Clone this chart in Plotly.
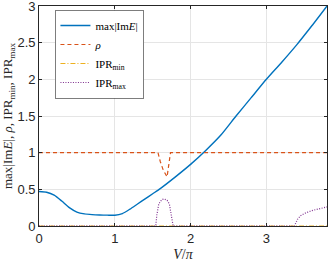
import plotly.graph_objects as go

# max|Im E|
imE_V = [0, 0.1, 0.2, 0.3, 0.4, 0.5, 0.6, 0.7, 0.8, 0.9, 1.0, 1.1, 1.2, 1.3, 1.4, 1.5,
         1.6, 1.8, 2.0, 2.2, 2.4, 2.6, 2.8, 3.0, 3.2, 3.4, 3.6, 3.8]
imE = [0.47, 0.46, 0.42, 0.34, 0.25, 0.19, 0.165, 0.155, 0.15, 0.148, 0.147, 0.17, 0.23,
       0.30, 0.37, 0.44, 0.51, 0.67, 0.84, 1.03, 1.24, 1.50, 1.75, 2.0, 2.23, 2.47, 2.73, 3.0]

# rho
rho_V = [0, 1.57, 1.60, 1.64, 1.69, 1.71, 1.735, 3.8]
rho = [1.0, 1.0, 0.88, 0.76, 0.67, 0.80, 1.0, 1.0]

# IPR_min
iprmin_V = [0, 3.8]
iprmin = [0.0, 0.0]

# IPR_max
iprmax_V = [0, 1.54, 1.555, 1.58, 1.62, 1.65, 1.69, 1.72, 1.75, 1.77,
            3.37, 3.39, 3.41, 3.45, 3.5, 3.6, 3.7, 3.8]
iprmax = [0, 0, 0.15, 0.30, 0.36, 0.37, 0.35, 0.30, 0.12, 0,
          0, 0.05, 0.09, 0.14, 0.17, 0.21, 0.24, 0.26]

x_ticks = [0, 1, 2, 3]
y_ticks = [0, 0.5, 1, 1.5, 2, 2.5, 3]
y_tick_labels = ["0", "0.5", "1", "1.5", "2", "2.5", "3"]

serif = "Liberation Serif"
sans = "Liberation Sans"
axc = "#262626"

fig = go.Figure()
fig.add_trace(go.Scatter(x=imE_V, y=imE, mode="lines", name="max|Im<i>E</i>|",
                         line=dict(color="#0072BD", width=1.4, shape="spline", smoothing=0.6)))
fig.add_trace(go.Scatter(x=rho_V, y=rho, mode="lines", name="<i>ρ</i>",
                         line=dict(color="#D95319", width=1.2, dash="4px,3px")))
fig.add_trace(go.Scatter(x=iprmin_V, y=iprmin, mode="lines", name="IPR<sub>min</sub>",
                         line=dict(color="#EDB120", width=1.2, dash="5px,2px,1px,2px")))
fig.add_trace(go.Scatter(x=iprmax_V, y=iprmax, mode="lines", name="IPR<sub>max</sub>",
                         line=dict(color="#7E2F8E", width=1.2, dash="1px,1.5px")))

fig.update_layout(
    width=329, height=262,
    autosize=False,
    margin=dict(l=39, r=2, t=6, b=36, autoexpand=False),
    paper_bgcolor="white", plot_bgcolor="white",
    showlegend=True,
    legend=dict(x=0.055, y=0.98, xanchor="left", yanchor="top",
                bgcolor="white", bordercolor=axc, borderwidth=0.6,
                font=dict(family=serif, size=11, color="black"),
                tracegroupgap=0, itemwidth=30),
)
fig.update_xaxes(range=[0, 3.8], tickvals=x_ticks, ticktext=[str(t) for t in x_ticks],
                 showline=True, linecolor=axc, linewidth=0.8, mirror="ticks",
                 ticks="inside", ticklen=3, tickcolor=axc, automargin=False,
                 ticklabeloverflow="allow",
                 showgrid=True, gridcolor="#e5e5e5", gridwidth=0.6, zeroline=False,
                 tickfont=dict(family=sans, size=13, color=axc),
                 title=dict(text="<i>V</i>/<i>π</i>", font=dict(family=serif, size=14, color=axc),
                            standoff=4))
fig.update_yaxes(range=[0, 3], tickvals=y_ticks, ticktext=y_tick_labels,
                 showline=True, linecolor=axc, linewidth=0.8, mirror="ticks",
                 ticks="inside", ticklen=3, tickcolor=axc, automargin=False,
                 ticklabeloverflow="allow",
                 showgrid=True, gridcolor="#e5e5e5", gridwidth=0.6, zeroline=False,
                 tickfont=dict(family=sans, size=13, color=axc),
                 title=dict(text="max|Im<i>E</i>|, <i>ρ</i>, IPR<sub>min</sub>, IPR<sub>max</sub>",
                            font=dict(family=serif, size=13, color=axc), standoff=2))

fig.write_html("out.html", config={"displayModeBar": False},
               post_script="document.body.style.margin='0';document.body.style.overflow='hidden';")
